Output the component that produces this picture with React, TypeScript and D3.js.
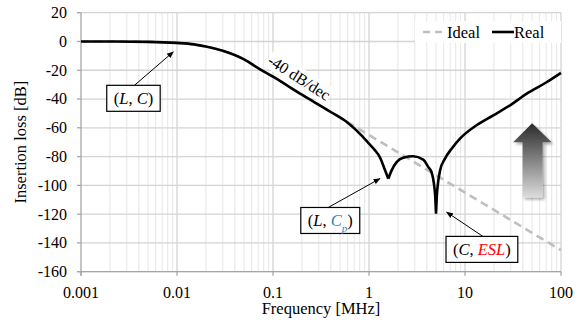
import { useRef, useEffect } from "react"
import * as d3 from "d3"

const WIDTH = 585
const HEIGHT = 327
const PLOT = { left: 81, right: 561, top: 12.7, bottom: 271.7 }
const FONT = "Liberation Serif, serif"

// Ideal LC filter: flat, then -40 dB/dec
const idealFreq = [0.001, 0.002, 0.003, 0.005, 0.007, 0.01, 0.015, 0.02, 0.03, 0.05, 0.07, 0.1, 0.2, 0.5, 1, 2, 5, 10, 20, 50, 100]
const idealLoss = [0, -0.02, -0.05, -0.2, -0.5, -1, -2, -3.5, -6.5, -12.5, -18.5, -24.5, -37, -53, -65, -77, -93, -105, -117, -133, -145]

// Real filter with parasitics (Cp, ESL)
const realFreq = [0.001, 0.002, 0.005, 0.01, 0.015, 0.02, 0.03, 0.05, 0.07, 0.1, 0.2, 0.4, 0.6, 0.8, 1.0, 1.15, 1.3, 1.46, 1.59, 1.72, 1.94, 2.27, 2.89, 3.67, 4.15, 4.49, 4.75, 4.9, 4.99, 5.08, 5.2, 5.5, 6.19, 7.26, 8.87, 13.2, 19.7, 30, 44, 70, 100]
const realLoss = [0, -0.05, -0.25, -1, -2, -3.5, -6.5, -12.5, -18.5, -24.5, -37, -49, -56.5, -64, -71, -75.5, -80.5, -89, -95.4, -89.6, -83.8, -80.8, -79.8, -82.1, -87.3, -91, -99, -108, -119.7, -108, -100, -89.6, -81.4, -74.5, -67.5, -58.2, -51.3, -44, -36.2, -28.5, -21.8]

const xTickValues = [0.001, 0.01, 0.1, 1, 10, 100]
const xTickLabels = ["0.001", "0.01", "0.1", "1", "10", "100"]
const yTickValues = [20, 0, -20, -40, -60, -80, -100, -120, -140, -160]

const seriesNames = ["Ideal", "Real"]

// annotation boxes: [box freq, box dB, arrow tip freq, arrow tip dB]
const notePos = [
  [0.00352, -39.5, 0.00915, -7.2],
  [0.395, -124.4, 1.3, -95.3],
  [15.0, -144.5, 6.44, -118.6],
]

type Part = { t: string; italic?: boolean; color?: string; sub?: boolean }
const noteTexts: Part[][] = [
  [{ t: "(" }, { t: "L", italic: true }, { t: ", " }, { t: "C", italic: true }, { t: ")" }],
  [{ t: "(" }, { t: "L", italic: true }, { t: ", " }, { t: "C", italic: true, color: "#2e7fc4" }, { t: "p", italic: true, color: "#2e7fc4", sub: true }, { t: ")" }],
  [{ t: "(" }, { t: "C", italic: true }, { t: ", " }, { t: "ESL", italic: true, color: "#ff0000" }, { t: ")" }],
]

export default function App() {
  const svgRef = useRef<SVGSVGElement>(null)

  useEffect(() => {
    const svg = svgRef.current
    if (!svg) return
    const root = d3.select(svg)
    root.selectAll("*").remove()

    const x = d3.scaleLog().domain([0.001, 100]).range([PLOT.left, PLOT.right])
    const y = d3.scaleLinear().domain([-160, 20]).range([PLOT.bottom, PLOT.top])

    const defs = root.append("defs")
    defs.append("marker")
      .attr("id", "head")
      .attr("viewBox", "0 0 10 10")
      .attr("refX", 9)
      .attr("refY", 5)
      .attr("markerWidth", 7)
      .attr("markerHeight", 7)
      .attr("markerUnits", "userSpaceOnUse")
      .attr("orient", "auto")
      .append("path")
      .attr("d", "M0,1 L10,5 L0,9 Z")
      .attr("fill", "#000")

    const grad = defs.append("linearGradient")
      .attr("id", "arrowGrad")
      .attr("x1", 0).attr("y1", 0).attr("x2", 0).attr("y2", 1)
    grad.append("stop").attr("offset", "0%").attr("stop-color", "#2b2b2b")
    grad.append("stop").attr("offset", "100%").attr("stop-color", "#dcdcdc")

    const blur = defs.append("filter").attr("id", "shadow").attr("x", "-30%").attr("y", "-30%").attr("width", "160%").attr("height", "160%")
    blur.append("feGaussianBlur").attr("in", "SourceAlpha").attr("stdDeviation", 1.5)
    blur.append("feOffset").attr("dx", 2).attr("dy", 2).attr("result", "off")
    blur.append("feComponentTransfer").append("feFuncA").attr("type", "linear").attr("slope", 0.35)
    const merge = blur.append("feMerge")
    merge.append("feMergeNode")
    merge.append("feMergeNode").attr("in", "SourceGraphic")

    // grid
    const minor = x.ticks().filter((t) => !xTickValues.some((m) => Math.abs(m - t) / m < 1e-6))
    root.append("g")
      .selectAll("line")
      .data(minor)
      .join("line")
      .attr("x1", (d) => x(d)).attr("x2", (d) => x(d))
      .attr("y1", PLOT.top).attr("y2", PLOT.bottom)
      .attr("stroke", "#e6e6e6").attr("stroke-width", 1)

    root.append("g")
      .selectAll("line")
      .data(yTickValues)
      .join("line")
      .attr("x1", PLOT.left).attr("x2", PLOT.right)
      .attr("y1", (d) => y(d)).attr("y2", (d) => y(d))
      .attr("stroke", "#d4d4d4").attr("stroke-width", 1.3)

    root.append("g")
      .selectAll("line")
      .data(xTickValues.slice(1))
      .join("line")
      .attr("x1", (d) => x(d)).attr("x2", (d) => x(d))
      .attr("y1", PLOT.top).attr("y2", PLOT.bottom)
      .attr("stroke", "#d4d4d4").attr("stroke-width", 1.3)

    // axes
    const axisColor = "#a6a6a6"
    root.append("line")
      .attr("x1", PLOT.left).attr("x2", PLOT.left)
      .attr("y1", PLOT.top).attr("y2", PLOT.bottom + 4)
      .attr("stroke", axisColor).attr("stroke-width", 1.3)
    root.append("line")
      .attr("x1", PLOT.left - 4).attr("x2", PLOT.right)
      .attr("y1", PLOT.bottom).attr("y2", PLOT.bottom)
      .attr("stroke", axisColor).attr("stroke-width", 1.3)
    root.append("g").selectAll("line").data(yTickValues).join("line")
      .attr("x1", PLOT.left - 4).attr("x2", PLOT.left)
      .attr("y1", (d) => y(d)).attr("y2", (d) => y(d))
      .attr("stroke", axisColor).attr("stroke-width", 1.3)
    root.append("g").selectAll("line").data(xTickValues).join("line")
      .attr("x1", (d) => x(d)).attr("x2", (d) => x(d))
      .attr("y1", PLOT.bottom).attr("y2", PLOT.bottom + 4)
      .attr("stroke", axisColor).attr("stroke-width", 1.3)

    root.append("g").selectAll("text").data(yTickValues).join("text")
      .attr("x", PLOT.left - 14)
      .attr("y", (d) => y(d))
      .attr("dy", "0.34em")
      .attr("text-anchor", "end")
      .style("font-family", FONT).attr("font-size", 16).attr("fill", "#000")
      .text((d) => String(d))

    root.append("g").selectAll("text").data(xTickValues).join("text")
      .attr("x", (d) => x(d))
      .attr("y", 297.5)
      .attr("text-anchor", "middle")
      .style("font-family", FONT).attr("font-size", 16).attr("fill", "#000")
      .text((d, i) => xTickLabels[i])

    root.append("text")
      .attr("x", (PLOT.left + PLOT.right) / 2)
      .attr("y", 314)
      .attr("text-anchor", "middle")
      .style("font-family", FONT).attr("font-size", 16.5)
      .text("Frequency [MHz]")

    root.append("text")
      .attr("transform", `translate(26,${(PLOT.top + PLOT.bottom) / 2}) rotate(-90)`)
      .attr("text-anchor", "middle")
      .style("font-family", FONT).attr("font-size", 16.5)
      .text("Insertion loss [dB]")

    // lines
    const line = d3.line<[number, number]>()
      .x((d) => x(d[0]))
      .y((d) => y(d[1]))
      .curve(d3.curveMonotoneX)

    const idealPts = idealFreq.map((f, i) => [f, idealLoss[i]] as [number, number])
    root.append("path")
      .attr("d", line(idealPts))
      .attr("fill", "none")
      .attr("stroke", "#bfbfbf")
      .attr("stroke-width", 2.6)
      .attr("stroke-dasharray", "8,5")

    // split real curve at its sharp minima so the cusps stay pointed
    const realPts = realFreq.map((f, i) => [f, realLoss[i]] as [number, number])
    const cuts = [0]
    for (let i = 1; i < realPts.length - 1; i++) {
      if (realLoss[i] < realLoss[i - 1] && realLoss[i] < realLoss[i + 1]) cuts.push(i)
    }
    cuts.push(realPts.length - 1)
    const segs = d3.pairs(cuts).map(([a, b]) => realPts.slice(a, b + 1))
    root.append("path")
      .attr("d", segs.map((s) => line(s)).join(""))
      .attr("fill", "none")
      .attr("stroke", "#000")
      .attr("stroke-width", 2.6)
      .attr("stroke-linejoin", "round")

    // slope label
    const slopeG = root.append("g")
      .attr("transform", `translate(${x(0.187)},${y(-25.2)}) rotate(32.5)`)
    slopeG.append("rect")
      .attr("x", -36).attr("y", -10).attr("width", 72).attr("height", 19)
      .attr("fill", "#fff")
    slopeG.append("text")
      .attr("text-anchor", "middle")
      .attr("dy", "0.33em")
      .style("font-family", FONT).attr("font-size", 16)
      .text("-40 dB/dec")

    // legend
    const lg = root.append("g")
    lg.append("rect")
      .attr("x", 415).attr("y", 21).attr("width", PLOT.right - 415).attr("height", 22)
      .attr("fill", "#fff")
    lg.append("line")
      .attr("x1", 423).attr("x2", 447).attr("y1", 32).attr("y2", 32)
      .attr("stroke", "#bfbfbf").attr("stroke-width", 2.6).attr("stroke-dasharray", "7,5")
    lg.append("text")
      .attr("x", 447).attr("y", 32).attr("dy", "0.34em")
      .style("font-family", FONT).attr("font-size", 16.5)
      .text(seriesNames[0])
    lg.append("line")
      .attr("x1", 492).attr("x2", 514).attr("y1", 32).attr("y2", 32)
      .attr("stroke", "#000").attr("stroke-width", 2.6)
    lg.append("text")
      .attr("x", 514).attr("y", 32).attr("dy", "0.34em")
      .style("font-family", FONT).attr("font-size", 16.5)
      .text(seriesNames[1])

    // annotations
    notePos.forEach(([bf, bd, tf, td], i) => {
      const cx = x(bf)
      const cy = y(bd)
      const g = root.append("g")
      const rect = g.append("rect").attr("fill", "#fff").attr("stroke", "#000").attr("stroke-width", 1.2)
      const text = g.append("text")
        .attr("x", cx).attr("y", cy).attr("dy", "0.34em")
        .attr("text-anchor", "middle")
        .style("font-family", FONT).attr("font-size", 16.5)
      noteTexts[i].forEach((p) => {
        const ts = text.append("tspan").text(p.t)
        if (p.italic) ts.attr("font-style", "italic")
        if (p.color) ts.attr("fill", p.color)
        if (p.sub) ts.attr("font-size", 11).attr("baseline-shift", "sub")
      })
      const bb = (text.node() as SVGTextElement).getBBox()
      const padX = 7
      const h = 26
      rect.attr("x", bb.x - padX).attr("y", cy - h / 2)
        .attr("width", bb.width + padX * 2).attr("height", h)
      const sx = i === 0 ? cx + 1 : i === 1 ? cx - 2 : cx + 1
      root.append("line")
        .attr("x1", sx).attr("y1", cy - h / 2)
        .attr("x2", x(tf)).attr("y2", y(td))
        .attr("stroke", "#000").attr("stroke-width", 1)
        .attr("marker-end", "url(#head)")
    })

    // big up arrow
    const ax = x(50)
    const tip = y(-56.9)
    const base = y(-70)
    const bottom = y(-108.4)
    const arrowPath = d3.path()
    arrowPath.moveTo(ax, tip)
    arrowPath.lineTo(ax + 19.5, base)
    arrowPath.lineTo(ax + 10.5, base)
    arrowPath.lineTo(ax + 10.5, bottom)
    arrowPath.lineTo(ax - 9.5, bottom)
    arrowPath.lineTo(ax - 9.5, base)
    arrowPath.lineTo(ax - 19, base)
    arrowPath.closePath()
    root.append("path")
      .attr("d", arrowPath.toString())
      .attr("fill", "url(#arrowGrad)")
      .attr("filter", "url(#shadow)")
  }, [])

  return (
    <div style={{ position: "absolute", left: 0, top: 0 }}>
      <svg ref={svgRef} width={WIDTH} height={HEIGHT} style={{ display: "block", background: "#fff" }} />
    </div>
  )
}
